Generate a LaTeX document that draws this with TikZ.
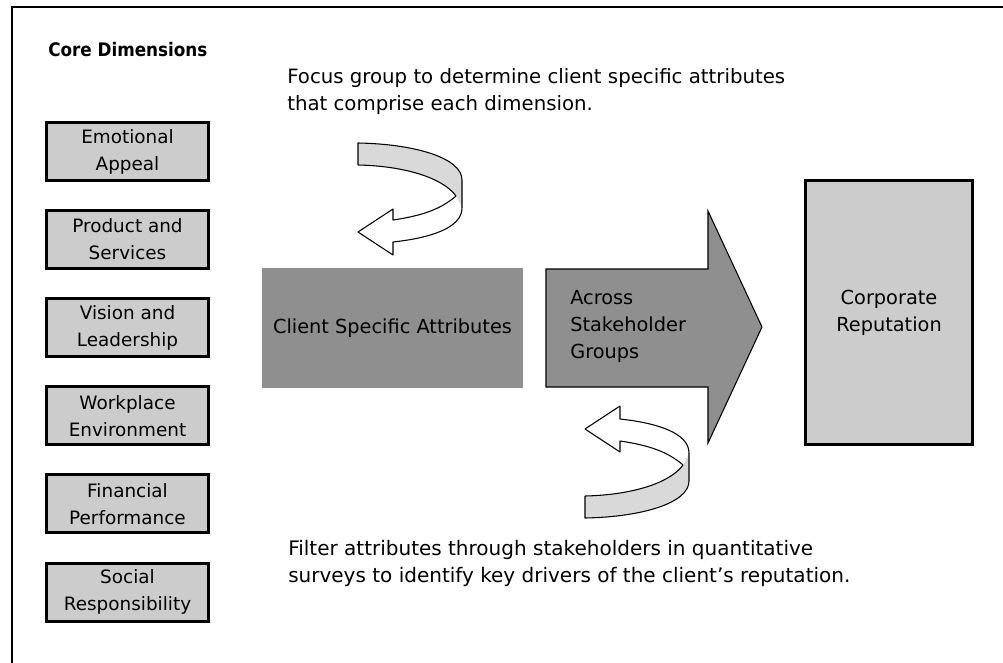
\documentclass[tikz,border=0pt]{standalone}
\usepackage{fontspec}
\setmainfont{DejaVu Sans}
\newfontfamily\condfont{DejaVu Sans Condensed}
\definecolor{boxgray}{HTML}{CCCCCC}
\definecolor{midgray}{HTML}{8F8F8F}
\definecolor{ribbongray}{HTML}{D9D9D9}
\tikzset{
  txt/.style={font=\fontsize{14.5}{20.25}\selectfont, text=black},
  note/.style={font=\fontsize{15}{20.25}\selectfont, text=black, anchor=west, align=left, inner sep=0pt},
  dimbox/.style={font=\fontsize{13.8}{20.25}\selectfont, text=black, draw=black, line width=2.25pt, fill=boxgray, minimum width=121.5pt, minimum height=43.5pt, inner sep=0pt, align=center},
  ribbon/.style={draw=black, line width=0.8pt, line join=round},
}
\newcommand{\curlyarrow}{%
  \fill[ribbongray] (358,143) .. controls (415,144) and (462,158) .. (462,180) -- (462,208) -- (456,196)
        .. controls (443,178) and (405,166) .. (358,165) -- cycle;
  \fill[white] (456,196) .. controls (440,210) and (420,216) .. (393,220) -- (393,209) -- (358,232)
        -- (393,255) -- (393,242) .. controls (430,238) and (462,228) .. (462,208) -- cycle;
  \draw[ribbon] (358,165) -- (358,143) .. controls (415,144) and (462,158) .. (462,180) -- (462,208);
  \draw[ribbon] (358,165) .. controls (405,166) and (443,178) .. (456,196)
        .. controls (440,210) and (420,216) .. (393,220) -- (393,209) -- (358,232)
        -- (393,255) -- (393,242) .. controls (430,238) and (462,228) .. (462,208);
}
\begin{document}
\begin{tikzpicture}[x=0.75pt,y=-0.75pt]
\useasboundingbox (0,0) rectangle (1003,663);
\fill[white] (0,0) rectangle (1003,663);
% frame
\draw[line width=1.9pt] (1003,7) -- (12,7) -- (12,663);

\node[txt, font=\fontsize{14}{18}\selectfont\condfont\bfseries, anchor=west, inner sep=0pt] (core) at (48,50) {Core Dimensions};

\node[dimbox] (d1) at (127.5,151.5) {Emotional\\Appeal};
\node[dimbox] (d2) at (127.5,239.6) {Product and\\Services};
\node[dimbox] (d3) at (127.5,327.7) {Vision and\\Leadership};
\node[dimbox] (d4) at (127.5,415.8) {Workplace\\Environment};
\node[dimbox] (d5) at (127.5,503.9) {Financial\\Performance};
\node[dimbox] (d6) at (127.5,592) {Social\\Responsibility};

\node[note, font=\fontsize{14.8}{20.25}\selectfont] (focus) at (287,91.5)
  {Focus group to determine client specific attributes\\that comprise each dimension.};

\node[txt, fill=midgray, minimum width=195.75pt, minimum height=90pt, inner sep=0pt] (csa) at (392.5,328)
  {Client Specific Attributes};

% big arrow
\draw[fill=midgray, draw=black, line width=0.8pt, line join=miter]
  (546,269) -- (708,269) -- (708,211) -- (762,327) -- (708,443) -- (708,387) -- (546,387) -- cycle;
\node[txt, anchor=west, align=left, inner sep=0pt] (across) at (570,326)
  {Across\\Stakeholder\\Groups};

\node[dimbox, font=\fontsize{14.5}{20.25}\selectfont, minimum width=125.25pt, minimum height=198pt] (corp) at (889,312.5)
  {Corporate\\Reputation};

% curved arrows
\curlyarrow
\begin{scope}[shift={(227,661)}, yscale=-1]
\curlyarrow
\end{scope}

\node[note] (filter) at (288,563.5)
  {Filter attributes through stakeholders in quantitative\\surveys to identify key drivers of the client{\char"0027}s reputation.};
\end{tikzpicture}
\end{document}
